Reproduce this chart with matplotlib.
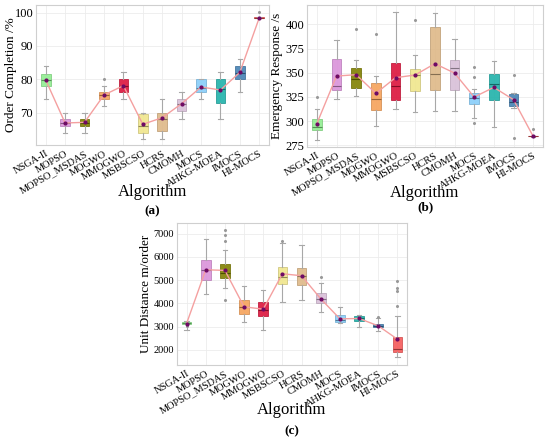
import matplotlib
matplotlib.use("Agg")
import matplotlib.pyplot as plt
import matplotlib.colors as mcolors
import numpy as np

plt.rcParams['font.family'] = ['Liberation Serif', 'DejaVu Serif']

# ---------------- data ----------------
algos = ['NSGA-II', 'MOPSO', 'MOPSO_MSDAS', 'MOGWO', 'MMOGWO', 'MSBSCSO',
         'HCRS', 'CMOMH', 'MOCS', 'AHKG-MOEA', 'IMOCS', 'HI-MOCS']
colors = ['#90EE90', '#DA92DA', '#808000', '#F6A25A', '#DC143C', '#F0E68C',
          '#DEB887', '#D8BFD8', '#87CEFA', '#20B2AA', '#4682B4', '#F55A5A']

# (a) order completion : whislo, q1, med, q3, whishi
oc_lo   = [74.0, 64.0, 64.0, 72.0, 74.0, 62.0, 62.0, 68.1, 74.1, 68.1, 76.1, 98.3]
oc_q1   = [78.0, 66.0, 66.0, 74.1, 76.1, 64.0, 64.5, 70.6, 76.1, 73.0, 80.1, 98.4]
oc_med  = [79.8, 67.0, 67.0, 75.2, 78.0, 66.0, 68.0, 72.5, 77.5, 77.0, 82.0, 98.5]
oc_q3   = [81.6, 68.0, 68.0, 76.1, 80.0, 69.5, 70.0, 74.1, 80.0, 80.0, 84.1, 98.6]
oc_hi   = [84.1, 70.0, 70.0, 78.0, 82.1, 70.0, 74.1, 76.1, 80.0, 82.1, 86.2, 98.7]
oc_mean = [79.8, 66.9, 67.1, 75.3, 78.1, 66.5, 68.5, 72.7, 77.7, 76.8, 82.1, 98.5]
oc_out  = [[], [], [], [80.0], [], [], [], [], [], [], [], [100.3]]

# (b) emergency response
er_lo   = [280.9, 322.9, 326.0, 294.6, 312.9, 309.8, 310.1, 310.1, 303.2, 293.9, 314.0, 284.0]
er_q1   = [291.2, 331.8, 334.2, 311.2, 321.5, 331.1, 331.8, 331.8, 317.7, 322.2, 315.3, 284.2]
er_med  = [294.0, 336.0, 343.9, 323.2, 336.0, 347.7, 349.0, 354.9, 324.0, 338.7, 320.0, 284.3]
er_q3   = [302.5, 363.8, 354.9, 339.7, 360.0, 353.9, 397.2, 363.5, 329.1, 349.0, 327.7, 284.4]
er_hi   = [312.9, 384.2, 362.8, 346.3, 412.7, 368.7, 411.7, 385.2, 333.0, 362.1, 329.0, 284.6]
er_mean = [297.4, 346.6, 348.0, 328.7, 344.9, 347.7, 359.4, 349.7, 324.9, 334.9, 322.2, 284.3]
er_out  = [[325.0], [], [395.2], [390.0], [], [404.0], [], [],
           [355.9, 345.6, 298.0], [], [347.3, 282.9], [291.5]]

# (c) unit distance
ud_lo   = [2862, 4414, 4658, 3221, 2862, 4040, 4155, 3609, 3150, 2977, 2805, 1684]
ud_q1   = [3106, 5017, 5075, 3552, 3451, 4845, 4773, 4011, 3193, 3264, 2977, 1899]
ud_med  = [3164, 5448, 5305, 3830, 3700, 5132, 5190, 4180, 3300, 3360, 3040, 2057]
ud_q3   = [3221, 5851, 5693, 4155, 4069, 5549, 5520, 4443, 3509, 3451, 3106, 2546]
ud_hi   = [3250, 6784, 6282, 4730, 4557, 6598, 6526, 4874, 3839, 3480, 3365, 3466]
ud_mean = [3135, 5448, 5420, 3853, 3753, 5276, 5190, 4198, 3336, 3351, 3034, 2460]
ud_out  = [[3034], [], [7172, 6957, 6670, 4155], [], [], [6700], [], [5132],
           [], [], [3400], [4945, 4658, 4543, 3868]]


def darker(c, f=0.6):
    r, g, b = mcolors.to_rgb(c)
    return (r * f, g * f, b * f)


def draw_panel(ax, lo, q1, med, q3, hi, mean, out, ylabel, yticks, ylim, ylab_x, tsize):
    stats = []
    for i in range(len(algos)):
        stats.append(dict(whislo=lo[i], q1=q1[i], med=med[i], q3=q3[i],
                          whishi=hi[i], fliers=out[i], label=algos[i]))
    pos = np.arange(len(algos))
    bp = ax.bxp(stats, positions=pos, widths=0.5, patch_artist=True,
                showfliers=True,
                whiskerprops=dict(color='#a8a8a8', lw=0.8),
                capprops=dict(color='#a8a8a8', lw=0.8),
                flierprops=dict(marker='o', markersize=1.2, markerfacecolor='#999999',
                                markeredgecolor='#999999'),
                capwidths=0.22)
    for i, b in enumerate(bp['boxes']):
        b.set_facecolor(colors[i])
        b.set_alpha(0.9)
        b.set_edgecolor(darker(colors[i], 0.85))
        b.set_linewidth(0.6)
        bp['medians'][i].set_color(darker(colors[i], 0.6))
        bp['medians'][i].set_linewidth(0.8)
    # line through the means
    ax.plot(pos, mean, '-', color='#F4A0A0', lw=1.0, zorder=4)
    ax.plot(pos, mean, 'o', color='#6e0a64', markersize=2.0, zorder=5)

    ax.set_xlim(-0.5, 11.5)
    ax.set_ylim(ylim)
    ax.set_yticks(yticks)
    ax.set_xticks(pos)
    ax.set_xticklabels(algos, rotation=30, ha='right', rotation_mode='anchor', fontsize=7.5)
    ax.tick_params(axis='y', labelsize=tsize, length=0, pad=2)
    ax.tick_params(axis='x', length=0, pad=3)
    ax.grid(True, color='#ececec', lw=0.6)
    ax.set_axisbelow(True)
    for s in ax.spines.values():
        s.set_color('#cfcfcf')
        s.set_linewidth(0.8)
    ax.set_ylabel(ylabel, fontsize=9.5)
    ax.yaxis.label.set_va('center')
    ax.yaxis.set_label_coords(ylab_x, 0.5)


fig = plt.figure(figsize=(5.5, 4.41), dpi=100)

ax1 = fig.add_axes([36 / 550, 1 - 145 / 441, 233 / 550, 140 / 441])
draw_panel(ax1, oc_lo, oc_q1, oc_med, oc_q3, oc_hi, oc_mean, oc_out,
           'Order Completion /%', [70, 80, 90, 100], (60.3, 102.3), (11 - 36) / 233, 9)

ax2 = fig.add_axes([307 / 550, 1 - 147 / 441, 236 / 550, 142 / 441])
draw_panel(ax2, er_lo, er_q1, er_med, er_q3, er_hi, er_mean, er_out,
           'Emergency Response /s', [275, 300, 325, 350, 375, 400], (273.3, 420),
           (277 - 307) / 236, 9)

ax3 = fig.add_axes([177 / 550, 1 - 365 / 441, 230 / 550, 142 / 441])
draw_panel(ax3, ud_lo, ud_q1, ud_med, ud_q3, ud_hi, ud_mean, ud_out,
           'Unit Distance m/order', [2000, 3000, 4000, 5000, 6000, 7000], (1350, 7460),
           (146 - 177) / 230, 7.5)

# axis titles and panel letters
fig.text(152.5 / 550, 1 - 192 / 441, 'Algorithm', ha='center', va='center', fontsize=12)
fig.text(425 / 550, 1 - 193 / 441, 'Algorithm', ha='center', va='center', fontsize=12)
fig.text(292 / 550, 1 - 410 / 441, 'Algorithm', ha='center', va='center', fontsize=12)
fig.text(152.5 / 550, 1 - 211 / 441, '(a)', ha='center', va='center', fontsize=9.5, fontweight='bold')
fig.text(425 / 550, 1 - 207 / 441, '(b)', ha='center', va='center', fontsize=9.5, fontweight='bold')
fig.text(292 / 550, 1 - 431 / 441, '(c)', ha='center', va='center', fontsize=9.5, fontweight='bold')

fig.savefig('out.png', dpi=100)
